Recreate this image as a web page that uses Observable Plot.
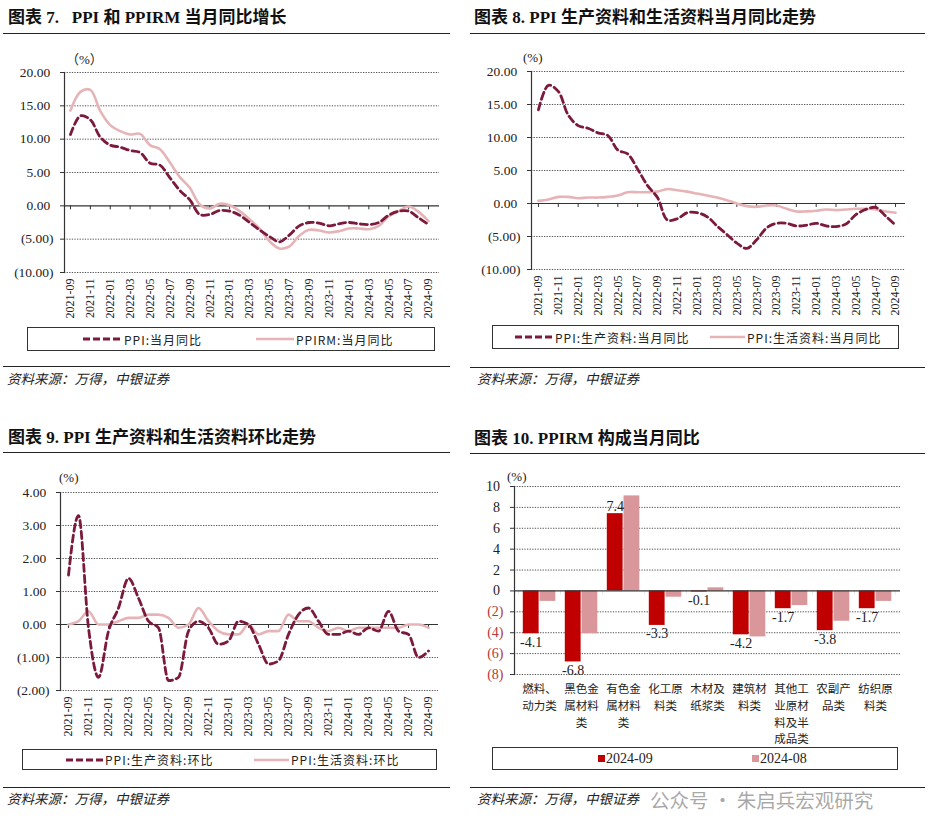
<!DOCTYPE html>
<html><head><meta charset="utf-8">
<script src="https://cdn.jsdelivr.net/npm/d3@7"></script>
<script src="https://cdn.jsdelivr.net/npm/@observablehq/plot@0.6"></script>
<style>
html,body{margin:0;padding:0;background:#fff;}
#root{position:relative;width:928px;height:837px;overflow:hidden;background:#fff;}
.title{position:absolute;font-family:"Liberation Serif","Noto Sans CJK SC",serif;font-weight:bold;font-size:17px;line-height:20px;color:#111;white-space:pre;}
.hr{position:absolute;height:0;border-top:1.4px solid #222;}
.src{position:absolute;font-family:"Noto Sans CJK SC",sans-serif;font-style:italic;font-size:13.5px;line-height:18px;color:#222;white-space:nowrap;}
.unit{position:absolute;font-family:"Liberation Serif","Noto Sans CJK SC",serif;font-size:13px;line-height:16px;color:#222;white-space:nowrap;}
.legend{position:absolute;border:1px solid #333;box-sizing:border-box;}
.li{position:absolute;top:0;height:100%;display:flex;align-items:center;font-family:"Noto Sans CJK SC",sans-serif;font-size:12px;letter-spacing:1px;color:#222;white-space:nowrap;}
.li2{position:absolute;top:0;height:100%;display:flex;align-items:center;font-family:"Liberation Serif",serif;font-size:14px;color:#222;white-space:nowrap;}
.wm{position:absolute;font-family:"Noto Sans CJK SC",sans-serif;font-size:19.5px;line-height:24px;color:rgba(140,140,140,0.75);white-space:nowrap;}
</style></head>
<body><div id="root"></div>
<script>
// ---------- data ----------
const months = ["2021-09","2021-10","2021-11","2021-12",
  "2022-01","2022-02","2022-03","2022-04","2022-05","2022-06","2022-07","2022-08","2022-09","2022-10","2022-11","2022-12",
  "2023-01","2023-02","2023-03","2023-04","2023-05","2023-06","2023-07","2023-08","2023-09","2023-10","2023-11","2023-12",
  "2024-01","2024-02","2024-03","2024-04","2024-05","2024-06","2024-07","2024-08","2024-09"];
const tickMonths = ["2021-09","2021-11","2022-01","2022-03","2022-05","2022-07","2022-09","2022-11",
  "2023-01","2023-03","2023-05","2023-07","2023-09","2023-11","2024-01","2024-03","2024-05","2024-07","2024-09"];

// Chart 7: PPI & PPIRM YoY
const ppiYoY = [10.7,13.5,12.9,10.3,9.1,8.8,8.3,8.0,6.4,6.1,4.2,2.3,0.9,-1.3,-1.3,-0.7,
  -0.8,-1.4,-2.5,-3.6,-4.6,-5.4,-4.4,-3.0,-2.5,-2.6,-3.0,-2.7,-2.5,-2.7,-2.8,-2.5,-1.4,-0.8,-0.8,-1.8,-2.8];
const ppirmYoY = [14.3,17.1,17.4,14.2,12.1,11.2,10.7,10.8,9.1,8.5,6.5,4.3,2.7,0.2,-0.4,0.3,
  0.1,-0.8,-2.0,-3.4,-5.3,-6.4,-6.1,-4.5,-3.6,-3.7,-4.0,-3.8,-3.4,-3.4,-3.5,-3.0,-1.6,-0.8,-0.1,-0.9,-2.3];

// Chart 8: producer / consumer goods YoY
const prodYoY = [14.2,17.9,17.0,13.4,11.8,11.4,10.7,10.3,8.1,7.5,5.2,2.7,0.9,-2.5,-2.3,-1.4,
  -1.4,-2.0,-3.4,-4.7,-6.0,-6.8,-5.5,-3.7,-3.0,-3.0,-3.4,-3.3,-3.0,-3.4,-3.5,-3.1,-1.7,-0.9,-0.6,-1.9,-3.3];
const consYoY = [0.4,0.6,1.0,1.0,0.8,0.9,0.9,1.0,1.2,1.7,1.7,1.7,1.8,2.2,2.0,1.8,
  1.5,1.2,0.9,0.5,0.0,-0.4,-0.5,-0.3,-0.3,-0.8,-1.2,-1.2,-1.1,-0.9,-1.0,-0.9,-0.8,-0.8,-0.9,-1.2,-1.4];

// Chart 9: producer / consumer goods MoM
const prodMoM = [1.5,3.3,-0.1,-1.6,-0.2,0.5,1.4,0.8,0.1,-0.1,-1.7,-1.6,-0.2,0.1,-0.1,-0.6,
  -0.5,0.1,0.0,-0.6,-1.2,-1.1,-0.3,0.3,0.5,0.1,-0.3,-0.3,-0.2,-0.3,-0.1,-0.2,0.4,-0.2,-0.3,-1.0,-0.8];
const consMoM = [0.0,0.1,0.4,0.0,0.0,0.1,0.2,0.2,0.3,0.3,0.2,-0.1,0.0,0.5,0.1,-0.2,
  -0.3,-0.3,0.0,-0.3,-0.2,-0.2,0.3,0.1,0.1,-0.1,-0.2,-0.1,-0.2,-0.1,-0.1,-0.1,-0.1,-0.1,0.0,0.0,-0.1];

// Chart 10: PPIRM components YoY
const categories = ["燃料、动力类","黑色金属材料类","有色金属材料类","化工原料类","木材及纸浆类",
  "建筑材料类","其他工业原材料及半成品类","农副产品类","纺织原料类"];
const sep2024 = [-4.1,-6.8,7.4,-3.3,-0.1,-4.2,-1.7,-3.8,-1.7];
const aug2024 = [-1.0,-4.1,9.1,-0.6,0.3,-4.4,-1.4,-2.9,-1.0];

const yTicks7 = [-10,-5,0,5,10,15,20];
const yTicks9 = [-2,-1,0,1,2,3,4];
const yTicks10 = [-8,-6,-4,-2,0,2,4,6,8,10];

// ---------- style ----------
const SERIF = '"Liberation Serif","Times New Roman",serif';
const CJK = '"Noto Sans CJK SC",sans-serif';
const C_DARK = "#7b1a3b", C_PINK = "#e6b4b6", C_RED = "#c00000", C_PINKBAR = "#d9979b", C_NEG = "#b5383c";
const GRID = {stroke:"#555", strokeWidth:1, strokeDasharray:"1.3,1.3"};
const root = document.getElementById("root");

function add(tag, cls, html, left, top, extra) {
  const el = document.createElement(tag);
  if (cls) el.className = cls;
  if (html != null) el.innerHTML = html;
  el.style.left = left + "px"; el.style.top = top + "px";
  if (extra) Object.assign(el.style, extra);
  root.appendChild(el);
  return el;
}
function placeSvg(svg, left, top) {
  svg.style.position = "absolute"; svg.style.left = left + "px"; svg.style.top = top + "px";
  root.appendChild(svg);
}
const fmt2 = d => d < 0 ? `(${Math.abs(d).toFixed(2)})` : d.toFixed(2) + "\u2008";
const rows = arr => months.map((m, i) => ({month: m, value: arr[i]}));

function lineChart(cfg) {
  return Plot.plot({
    width: cfg.width, height: cfg.mT + cfg.plotH + cfg.mB,
    marginLeft: cfg.mL, marginRight: cfg.mR, marginTop: cfg.mT, marginBottom: cfg.mB,
    style: {background: "transparent", fontFamily: SERIF, color: "#222", overflow: "visible"},
    x: {type: "point", domain: months, range: cfg.xRange},
    y: {domain: cfg.yDomain},
    marks: [
      Plot.ruleY(cfg.yTicks.filter(d => d !== 0), GRID),
      Plot.axisY(cfg.yTicks, {tickSize: 4, tickPadding: 7, tickFormat: fmt2, fontSize: 13.5, label: null, color: "#333", fill: "#222"}),
      Plot.axisX(tickMonths, {tickSize: 0, tickPadding: 6, tickRotate: -90, fontSize: 12, label: null, fill: "#222"}),
      Plot.ruleY([0], {stroke: "#333", strokeWidth: 1.2}),
      Plot.ruleX(tickMonths, {x: d => d, y1: 0, y2: -cfg.tickLen, stroke: "#333"}),
      Plot.frame({anchor: "left", stroke: "#333", strokeWidth: 1.2}),
      Plot.line(rows(cfg.b), {x: "month", y: "value", stroke: C_PINK, strokeWidth: 2.6, curve: cfg.curve}),
      Plot.line(rows(cfg.a), {x: "month", y: "value", stroke: C_DARK, strokeWidth: 2.8, strokeDasharray: "7,4", curve: cfg.curve})
    ]
  });
}

function lineLegend(left, top, w, h, items) {
  const box = add("div", "legend", null, left, top, {width: w + "px", height: h + "px"});
  items.forEach(it => {
    const el = document.createElement("div");
    el.className = "li";
    el.style.left = it.x + "px";
    const dash = it.dash ? `stroke-dasharray="7,3"` : "";
    el.innerHTML = `<svg width="${it.len}" height="6" style="margin-right:2px"><line x1="0" y1="3" x2="${it.len}" y2="3" stroke="${it.color}" stroke-width="${it.dash ? 3 : 2.6}" ${dash}/></svg>${it.label}`;
    box.appendChild(el);
  });
}

// ---------- Chart 7 ----------
add("div", "title", "图表 7.   PPI 和 PPIRM 当月同比增长", 8, 8);
add("div", "hr", null, 3, 33, {width: "447px"});
add("div", "unit", "（%）", 66, 52);
placeSvg(lineChart({width: 460, mL: 64, mR: 21, mT: 22, plotH: 200, mB: 50, xRange: [65, 433],
  yDomain: [-10, 20], yTicks: yTicks7, tickLen: 0.6, a: ppiYoY, b: ppirmYoY, curve: "catmull-rom"}), 0, 50);
lineLegend(27, 327, 408, 24, [
  {x: 55, len: 39, color: C_DARK, dash: true, label: "PPI:当月同比"},
  {x: 228, len: 38, color: C_PINK, dash: false, label: "PPIRM:当月同比"}]);
add("div", "hr", null, 3, 366, {width: "447px"});
add("div", "src", "资料来源：万得，中银证券", 7, 369);

// ---------- Chart 8 ----------
add("div", "title", "图表 8. PPI 生产资料和生活资料当月同比走势", 474, 8);
add("div", "hr", null, 470, 33, {width: "455px"});
add("div", "unit", "(%)", 523, 50);
placeSvg(lineChart({width: 458, mL: 61, mR: 23, mT: 21, plotH: 198, mB: 50, xRange: [63, 430],
  yDomain: [-10, 20], yTicks: yTicks7, tickLen: 0.6, a: prodYoY, b: consYoY, curve: "catmull-rom"}), 470, 50);
lineLegend(492, 325, 407, 24, [
  {x: 22, len: 38, color: C_DARK, dash: true, label: "PPI:生产资料:当月同比"},
  {x: 217, len: 35, color: C_PINK, dash: false, label: "PPI:生活资料:当月同比"}]);
add("div", "hr", null, 470, 367, {width: "455px"});
add("div", "src", "资料来源：万得，中银证券", 477, 369);

// ---------- Chart 9 ----------
add("div", "title", "图表 9. PPI 生产资料和生活资料环比走势", 8, 428);
add("div", "hr", null, 3, 452, {width: "447px"});
add("div", "unit", "(%)", 59, 470);
placeSvg(lineChart({width: 460, mL: 60, mR: 22, mT: 27, plotH: 198, mB: 50, xRange: [63, 433],
  yDomain: [-2, 4], yTicks: yTicks9, tickLen: 0.12, a: prodMoM, b: consMoM, curve: "monotone-x"}), 0, 465);
lineLegend(22, 749, 415, 21, [
  {x: 43, len: 37, color: C_DARK, dash: true, label: "PPI:生产资料:环比"},
  {x: 231, len: 35, color: C_PINK, dash: false, label: "PPI:生活资料:环比"}]);
add("div", "hr", null, 3, 787, {width: "447px"});
add("div", "src", "资料来源：万得，中银证券", 7, 789);

// ---------- Chart 10 ----------
add("div", "title", "图表 10. PPIRM 构成当月同比", 474, 429);
add("div", "hr", null, 470, 453, {width: "455px"});
add("div", "unit", "(%)", 507, 469);
const barRows = categories.map((c, i) => ({cat: c, sep: sep2024[i], aug: aug2024[i]}));
const W4 = 458, mL4 = 44, mR4 = 28;
const bw = (W4 - mL4 - mR4) / categories.length;
const chart10 = Plot.plot({
  width: W4, height: 21 + 188 + 75, marginLeft: mL4, marginRight: mR4, marginTop: 21, marginBottom: 75,
  style: {background: "transparent", fontFamily: SERIF, color: "#222", overflow: "visible"},
  x: {type: "band", domain: categories, paddingInner: 0, paddingOuter: 0},
  y: {domain: [-8, 10]},
  marks: [
    Plot.ruleY(yTicks10.filter(d => d !== 0), GRID),
    Plot.barY(barRows, {x: "cat", y: "sep", fill: C_RED, insetLeft: 4.8, insetRight: bw - 21.5}),
    Plot.barY(barRows, {x: "cat", y: "aug", fill: C_PINKBAR, insetLeft: 21.5, insetRight: bw - 38.2}),
    Plot.ruleY([0], {stroke: "#333", strokeWidth: 1.2}),
    Plot.barY(categories, {x: d => d, y1: 0, y2: -0.38, fill: "#333", insetRight: bw - 1}),
    Plot.barY(categories.slice(-1), {x: d => d, y1: 0, y2: -0.38, fill: "#333", insetLeft: bw - 1}),
    Plot.frame({anchor: "left", stroke: "#333", strokeWidth: 1.2}),
    Plot.axisY(yTicks10.filter(d => d >= 0), {tickSize: 4, tickPadding: 7, tickFormat: d => d + "\u2008", fontSize: 14, label: null, stroke: "#333", fill: "#222"}),
    Plot.axisY(yTicks10.filter(d => d < 0), {tickSize: 4, tickPadding: 7, tickFormat: d => `(${-d})`, fontSize: 14, label: null, stroke: "#333", fill: C_NEG}),
    Plot.axisX({tickSize: 0, tickPadding: 7, fontSize: 11.5, fontFamily: CJK, lineHeight: 1.45, label: null, fill: "#222",
      tickFormat: d => d.match(/.{1,3}/g).join("\n")}),
    Plot.text(barRows.filter(d => d.sep < 0), {x: "cat", y: "sep", text: d => d.sep.toFixed(1), dx: -8.3, dy: 3, lineAnchor: "top", fontSize: 14, fontFamily: SERIF, fill: "#222"}),
    Plot.text(barRows.filter(d => d.sep >= 0), {x: "cat", y: "sep", text: d => d.sep.toFixed(1), dx: -8.3, dy: -3, lineAnchor: "bottom", fontSize: 14, fontFamily: SERIF, fill: "#222"})
  ]
});
placeSvg(chart10, 470, 465);
const leg4 = add("div", "legend", null, 492, 747, {width: "406px", height: "23px"});
[["2024-09", C_RED, 105], ["2024-08", C_PINKBAR, 259]].forEach(([lab, col, x]) => {
  const el = document.createElement("div");
  el.className = "li2"; el.style.left = x + "px";
  el.innerHTML = `<span style="display:inline-block;width:7px;height:7px;background:${col};margin-right:1px"></span>${lab}`;
  leg4.appendChild(el);
});
add("div", "hr", null, 470, 787, {width: "455px"});
add("div", "src", "资料来源：万得，中银证券", 477, 789);
add("div", "wm", "公众号 · 朱启兵宏观研究", 650, 788);
</script></body></html>
